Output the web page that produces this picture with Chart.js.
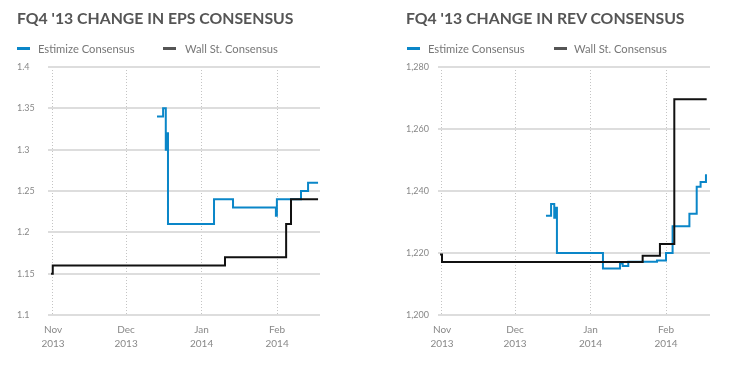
<!DOCTYPE html>
<html><head><meta charset="utf-8">
<script src="https://cdn.jsdelivr.net/npm/chart.js@4.4.1/dist/chart.umd.min.js"></script>
<style>
html,body{margin:0;padding:0;background:#fff;width:742px;height:371px;overflow:hidden;font-family:Lato,"Open Sans",sans-serif;}
.panel{position:absolute;top:0;width:371px;height:371px;}
.panel canvas{position:absolute;left:0;top:0;}
.title{position:absolute;top:10px;font-weight:700;font-size:15.8px;line-height:16px;color:#555;white-space:nowrap;}
.lg{position:absolute;top:42.5px;font-size:11.2px;line-height:12px;color:#777;white-space:nowrap;}
.sw{position:absolute;top:46.5px;width:13px;height:3px;}
</style></head>
<body>
<div class="panel" id="p1" style="left:0">
  <canvas id="c1" width="371" height="371"></canvas>
  <div class="title" style="left:17px">FQ4 '13 CHANGE IN EPS CONSENSUS</div>
  <div class="sw" style="left:17px;background:#0a86c8"></div><div class="lg" style="left:38px">Estimize Consensus</div>
  <div class="sw" style="left:163px;background:#555"></div><div class="lg" style="left:185px">Wall St. Consensus</div>
</div>
<div class="panel" id="p2" style="left:371px">
  <canvas id="c2" width="371" height="371"></canvas>
  <div class="title" style="left:35px">FQ4 '13 CHANGE IN REV CONSENSUS</div>
  <div class="sw" style="left:36px;background:#0a86c8"></div><div class="lg" style="left:57px">Estimize Consensus</div>
  <div class="sw" style="left:183px;background:#555"></div><div class="lg" style="left:203px">Wall St. Consensus</div>
</div>
<script>
// x values are days since 1 Nov 2013
const xTickDays = [0, 30, 61, 92];
const xTickLabels = [["Nov","2013"],["Dec","2013"],["Jan","2014"],["Feb","2014"]];

const epsTicks = [1.1, 1.15, 1.2, 1.25, 1.3, 1.35, 1.4];
const epsEstimizeDays   = [42.7, 45.2, 46.3, 46.7, 47.2, 66.1, 73.9, 91.5, 91.9, 101.8, 104.7, 108.8];
const epsEstimizeValues = [1.34, 1.35, 1.30, 1.32, 1.21, 1.24, 1.23, 1.22, 1.24, 1.25, 1.26, 1.26];
const epsWallStDays   = [-0.8, -0.1, 70.6, 95.7, 97.7, 108.8];
const epsWallStValues = [1.15, 1.16, 1.17, 1.21, 1.24, 1.24];

const revTicks = [1200, 1220, 1240, 1260, 1280];
const revEstimizeDays   = [42.7, 44.8, 46.1, 46.6, 47.2, 66.1, 73.1, 74.2, 76.5, 88.3, 92.0, 94.7, 101.6, 104.6, 106.2, 108.4];
const revEstimizeValues = [1232, 1235.8, 1231.4, 1234.6, 1220, 1215, 1216.6, 1215.8, 1217.2, 1217.6, 1220, 1228.6, 1232.7, 1241.4, 1242.9, 1245.4];
const revWallStDays   = [-0.8, 0, 82.4, 89.5, 95.4, 108.7];
const revWallStValues = [1219.5, 1217.1, 1219.1, 1222.9, 1269.6, 1269.6];

const BLUE = '#0a86c8', BLACK = '#111111';
const pts = (xs, ys) => xs.map((x, i) => ({x, y: ys[i]}));

function makeChart(id, estD, estV, wsD, wsV, yTicks, fmt, pad, yWidth, yPad, xMin, xMax) {
  new Chart(document.getElementById(id), {
    type: 'line',
    data: {
      datasets: [
        {label: 'Estimize Consensus', data: pts(estD, estV), borderColor: BLUE, borderWidth: 2, stepped: true, pointRadius: 0, fill: false, order: 2},
        {label: 'Wall St. Consensus', data: pts(wsD, wsV), borderColor: BLACK, borderWidth: 2, stepped: true, pointRadius: 0, fill: false, order: 1}
      ]
    },
    options: {
      responsive: false, animation: false, events: [],
      layout: {padding: pad},
      plugins: {legend: {display: false}, title: {display: false}, tooltip: {enabled: false}},
      scales: {
        x: {
          type: 'linear', min: xMin, max: xMax,
          afterBuildTicks: s => { s.ticks = xTickDays.map(v => ({value: v})); },
          ticks: {autoSkip: false, maxRotation: 0, padding: 8, color: '#888',
                  font: {family: 'Lato', size: 10, lineHeight: 1.4},
                  callback: v => { const i = xTickDays.indexOf(v); return i >= 0 ? xTickLabels[i] : ''; }},
          grid: {color: '#c4c4c4', lineWidth: 1, drawTicks: false},
          border: {display: false, dash: [1, 2]}
        },
        y: {
          min: yTicks[0], max: yTicks[yTicks.length - 1],
          afterBuildTicks: s => { s.ticks = yTicks.map(v => ({value: v})); },
          afterFit: s => { s.width = yWidth; },
          ticks: {crossAlign: 'far', padding: yPad, color: '#888', font: {family: 'Lato', size: 9}, callback: fmt},
          grid: {color: '#dddddd', lineWidth: 2, drawTicks: false},
          border: {display: false}
        }
      }
    }
  });
}

makeChart('c1', epsEstimizeDays, epsEstimizeValues, epsWallStDays, epsWallStValues, epsTicks,
  v => String(Number(v.toFixed(2))), {top: 67, bottom: 12, left: 17, right: 51}, 31, 13, -2.05, 109.6);
makeChart('c2', revEstimizeDays, revEstimizeValues, revWallStDays, revWallStValues, revTicks,
  v => v.toLocaleString('en-US'), {top: 67, bottom: 12, left: 35, right: 32}, 32, 9, -1.64, 110.06);
</script>
</body></html>
